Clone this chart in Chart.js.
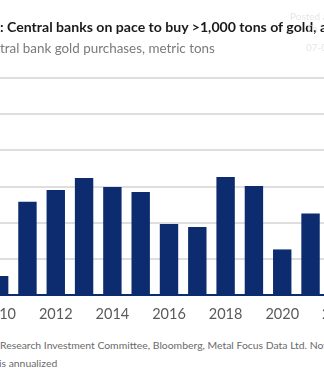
<!DOCTYPE html>
<html>
<head>
<meta charset="utf-8">
<script src="https://cdn.jsdelivr.net/npm/chart.js@4"></script>
<style>
  html, body { margin:0; padding:0; background:#fff; }
  body { width:324px; height:382px; overflow:hidden; position:relative; font-family: Lato, "Open Sans", sans-serif; }
  #wrap { position:absolute; left:-15px; top:0; width:368px; height:330px; }
  .line { position:absolute; white-space:nowrap; line-height:1; }
  #title { font-weight:700; font-size:14.1px; color:#1a1a1a; top:20px; }
  #subtitle { font-size:13.4px; color:#7a7a7a; top:42px; }
  .foot { font-size:10.4px; color:#6a6a6a; }
  #f1 { top:340px; }
  #f2 { top:358px; }
  .wm { position:absolute; font-size:10px; color:#e6e6e6; white-space:nowrap; }
</style>
</head>
<body>
<div id="wrap"><canvas id="c"></canvas></div>
<div class="line" id="title" data-x="0"><span class="pre">Exhibit 5</span>: Central banks on pace to buy &gt;1,000 tons of gold, again</div>
<div class="line" id="subtitle" data-x="0"><span class="pre">Cen</span>tral bank gold purchases, metric tons</div>
<div class="line foot" id="f1" data-x="0"><span class="pre">Source: BofA Global </span>Research Investment Committee, Bloomberg, Metal Focus Data Ltd. Note: 2023</div>
<div class="line foot" id="f2" data-x="-1"><span class="pre">2023 </span>is annualized</div>
<div class="wm" style="left:290px;top:10px;">Posted at</div>
<div class="wm" style="left:306px;top:22px;">Th</div>
<div class="wm" style="left:306px;top:41px;">07-0</div>
<script>
const categories = ['2010','2011','2012','2013','2014','2015','2016','2017','2018','2019','2020','2021','2022'];
const purchases = [105, 515, 581, 647, 597, 570, 393, 376, 653, 603, 252, 451, 1082];
const tickLabels = ['2010','2012','2014','2016','2018','2020','2022'];
const yTicks = [0, 200, 400, 600, 800, 1000, 1200];

function placeText() {
  document.querySelectorAll('.line').forEach(el => {
    const pre = el.querySelector('.pre');
    const x = parseFloat(el.dataset.x || '0');
    el.style.left = (x - (pre ? pre.getBoundingClientRect().width : 0)) + 'px';
  });
}
placeText();
if (document.fonts && document.fonts.ready) document.fonts.ready.then(placeText);

const navy = '#0d2b6f';
new Chart(document.getElementById('c'), {
  type: 'bar',
  data: {
    labels: categories,
    datasets: [{
      data: purchases,
      backgroundColor: navy,
      borderWidth: 0,
      categoryPercentage: 1,
      barPercentage: 0.65
    }]
  },
  options: {
    responsive: true,
    maintainAspectRatio: false,
    animation: false,
    events: [],
    layout: { padding: { top: 78, bottom: 0, left: 0, right: 0 } },
    plugins: { legend: { display: false }, tooltip: { enabled: false }, title: { display: false } },
    scales: {
      x: {
        offset: true,
        grid: { display: false, drawTicks: false },
        border: { display: true, color: navy, width: 2 },
        ticks: {
          autoSkip: false,
          maxRotation: 0,
          padding: 11,
          color: '#5a5a5a',
          font: { family: 'Lato', size: 14.5 },
          callback: function(v) { const l = this.getLabelForValue(v); return tickLabels.includes(l) ? l : ''; }
        },
        afterFit: s => { s.height = 35; s.paddingLeft = 0; s.paddingRight = 0; }
      },
      y: {
        min: 0,
        max: 1200,
        afterBuildTicks: s => { s.ticks = yTicks.map(v => ({ value: v })); },
        grid: { color: '#dedede', lineWidth: 2, drawTicks: false },
        border: { display: false },
        ticks: { display: false },
        afterFit: s => { s.width = 0; s.paddingTop = 0; s.paddingBottom = 0; }
      }
    }
  }
});
</script>
</body>
</html>
